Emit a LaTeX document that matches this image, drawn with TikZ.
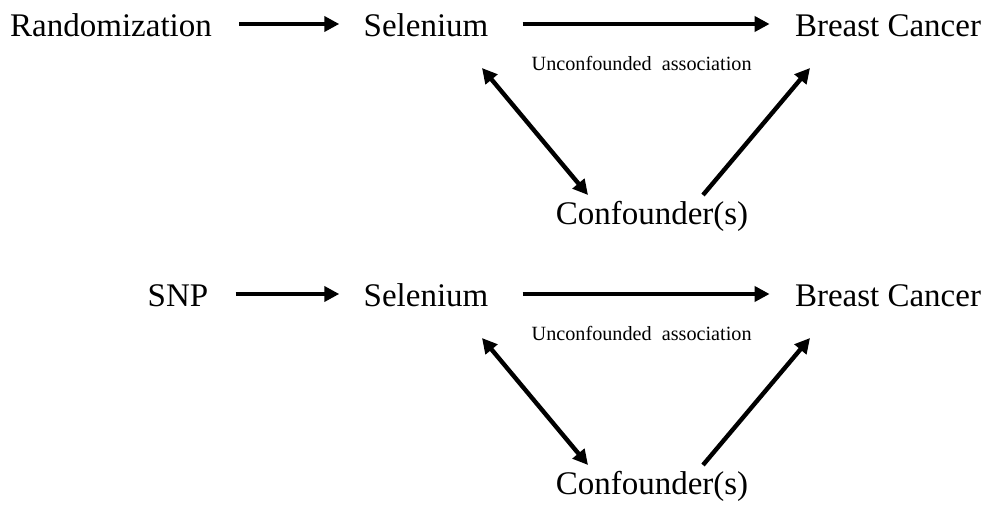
\documentclass[tikz,border=0pt]{standalone}
\usepackage{fontspec}
\setmainfont{Liberation Serif}
\usetikzlibrary{arrows.meta,calc,positioning}
\tikzset{
  bigtxt/.style={inner sep=0pt,text height=11.2pt,text depth=3.3pt,font=\fontsize{16.5}{19}\selectfont},
  smalltxt/.style={inner sep=0pt,font=\fontsize{10.1}{12}\selectfont},
  arr/.style={line width=2.2pt,-{Triangle[length=7.5pt,width=7.5pt]}},
  dblarr/.style={line width=2.2pt,{Triangle[length=7.5pt,width=7.5pt]}-{Triangle[length=7.5pt,width=7.5pt]}}
}

\begin{document}
\begin{tikzpicture}[x=0.5pt,y=-0.5pt,>=Latex]
      \useasboundingbox (0,0) rectangle (991,507);
      \node[bigtxt] (rand) at (111,29) {Randomization};
      \node[bigtxt] (selA) at (426,29) {Selenium};
      \node[bigtxt] (bcA) at (888,29) {Breast Cancer};
      \node[bigtxt] (confA) at (652,217) {Confounder(s)};
      \node[bigtxt] (snp) at (178,299) {SNP};
      \node[bigtxt] (selB) at (426,299) {Selenium};
      \node[bigtxt] (bcB) at (888,299) {Breast Cancer};
      \node[bigtxt] (confB) at (652,487) {Confounder(s)};
      \draw[arr,shorten <=13.5pt,shorten >=12pt] ([yshift=2.5pt]rand.east) -- ([yshift=2.5pt]selA.west);
      \draw[arr,shorten <=17pt,shorten >=12.5pt] ([yshift=2.5pt]selA.east) -- ([yshift=2.5pt]bcA.west)
        node[smalltxt,midway,yshift=-19.5pt]{Unconfounded\ \ association};
      \draw[dblarr] ($(selA)+(56,39)$) -- ($(confA)+(-64,-22)$);
      \draw[arr] ($(confA)+(51,-22)$) -- ($(bcA)+(-78,39)$);
      \draw[arr,shorten <=13.5pt,shorten >=12pt] ([yshift=2.5pt]snp.east) -- ([yshift=2.5pt]selB.west);
      \draw[arr,shorten <=17pt,shorten >=12.5pt] ([yshift=2.5pt]selB.east) -- ([yshift=2.5pt]bcB.west)
        node[smalltxt,midway,yshift=-19.5pt]{Unconfounded\ \ association};
      \draw[dblarr] ($(selB)+(56,39)$) -- ($(confB)+(-64,-22)$);
      \draw[arr] ($(confB)+(51,-22)$) -- ($(bcB)+(-78,39)$);
    \end{tikzpicture}
\end{document}
